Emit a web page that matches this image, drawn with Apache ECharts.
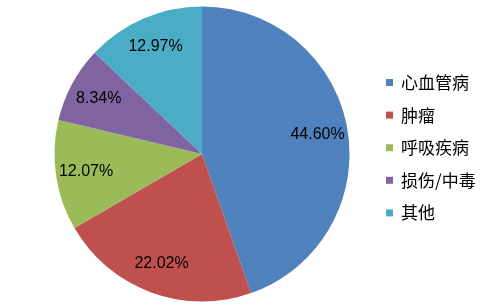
<!DOCTYPE html>
<html><head><meta charset="utf-8">
<script src="https://cdn.jsdelivr.net/npm/echarts@6/dist/echarts.min.js"></script>
<style>html,body{margin:0;padding:0;background:#fff}#c{width:487px;height:307px}</style>
</head><body><div id="c"></div>
<script>
const categories = ['心血管病', '肿瘤', '呼吸疾病', '损伤/中毒', '其他'];
const values = [44.60, 22.02, 12.07, 8.34, 12.97];
const colors = ['#4F81BD', '#C0504D', '#9BBB59', '#8064A2', '#4BACC6'];

const chart = echarts.init(document.getElementById('c'), null, {renderer: 'canvas'});
const data = categories.map((n, i) => ({name: n, value: values[i], itemStyle: {color: colors[i]}}));
chart.setOption({
  animation: false,
  legend: {
    orient: 'vertical', left: 386, top: 74, padding: 0,
    itemWidth: 7, itemHeight: 7, itemGap: 15.6, icon: 'rect',
    textStyle: {fontSize: 17, color: '#000', lineHeight: 17, padding: [0,0,0,3], fontFamily: '"Noto Sans CJK SC", sans-serif'},
    data: categories
  },
  series: [
    {
      type: 'pie', center: [202, 154], radius: [0, 147.5], startAngle: 90, clockwise: true,
      label: {show: false}, labelLine: {show: false},
      itemStyle: {borderWidth: 0},
      emphasis: {disabled: true},
      data: data
    },
    {
      type: 'pie', center: [202, 154], radius: [81, 147.5], startAngle: 90, clockwise: true,
      silent: true,
      itemStyle: {color: 'rgba(0,0,0,0)', borderWidth: 0},
      label: {show: true, position: 'inside', formatter: p => p.value.toFixed(2) + '%',
              fontSize: 16, color: '#000', fontFamily: '"Liberation Sans", Arial, sans-serif'},
      labelLine: {show: false},
      emphasis: {disabled: true},
      data: categories.map((n, i) => ({name: n, value: values[i]}))
    }
  ]
});
</script></body></html>
